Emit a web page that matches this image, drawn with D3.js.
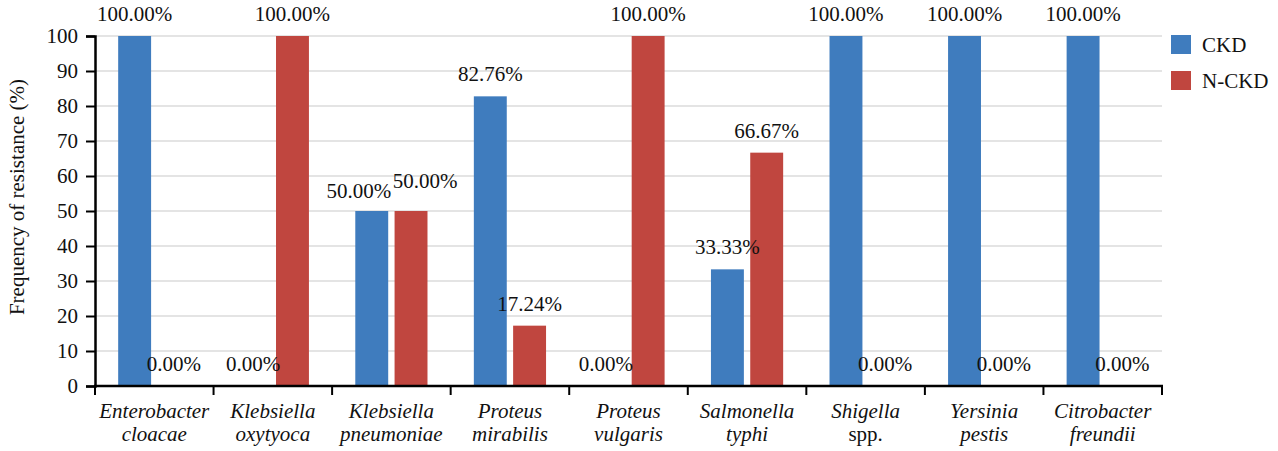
<!DOCTYPE html>
<html>
<head>
<meta charset="utf-8">
<script src="https://cdn.jsdelivr.net/npm/d3@7"></script>
<style>
  body { margin: 0; background: #fff; }
  svg { display: block; font-family: "Liberation Serif", "Times New Roman", serif; }
</style>
</head>
<body>
<svg id="chart" width="1278" height="451"></svg>
<script>
// data
var genus   = ["Enterobacter", "Klebsiella", "Klebsiella", "Proteus", "Proteus", "Salmonella", "Shigella", "Yersinia", "Citrobacter"];
var species = ["cloacae", "oxytyoca", "pneumoniae", "mirabilis", "vulgaris", "typhi", "spp.", "pestis", "freundii"];
var ckd     = [100, 0, 50, 82.76, 0, 33.33, 100, 100, 100];
var nckd    = [0, 100, 50, 17.24, 100, 66.67, 0, 0, 0];
var seriesNames = ["CKD", "N-CKD"];
var colors = ["#3f7cbe", "#c0463f"];
var yTicks = [0, 10, 20, 30, 40, 50, 60, 70, 80, 90, 100];

// hand nudges for the labels that were moved apart in the original
var labelNudge = { "2-0": [-13, 2], "2-1": [14, -8], "4-0": [-3, 0] };

var svg = d3.select("#chart");
var mLeft = 95, mRight = 1162, mTop = 36, mBottom = 386;

var x = d3.scaleBand().domain(d3.range(genus.length)).range([mLeft, mRight]).padding(0);
var xs = d3.scaleBand().domain([0, 1]).range([0, x.bandwidth()]).paddingInner(0.162).paddingOuter(0.59);
var y = d3.scaleLinear().domain([0, 100]).range([mBottom, mTop]);

// grid
svg.append("g").selectAll("line").data(yTicks.filter(function(d){ return d > 0; })).enter().append("line")
    .attr("x1", mLeft).attr("x2", mRight)
    .attr("y1", function(d){ return y(d); }).attr("y2", function(d){ return y(d); })
    .attr("stroke", "#e4e4e4").attr("stroke-width", 2);

// bars
var rows = genus.map(function(g, i){ return [ckd[i], nckd[i]]; });
var grp = svg.append("g").selectAll("g").data(rows).enter().append("g")
    .attr("transform", function(d, i){ return "translate(" + x(i) + ",0)"; });

grp.selectAll("rect").data(function(d){ return d; }).enter().append("rect")
    .attr("x", function(d, j){ return xs(j); })
    .attr("width", xs.bandwidth())
    .attr("y", function(d){ return y(d); })
    .attr("height", function(d){ return mBottom - y(d); })
    .attr("fill", function(d, j){ return colors[j]; });

grp.each(function(d, i){
    d3.select(this).selectAll("text").data(d).enter().append("text")
        .attr("x", function(v, j){ var n = labelNudge[i + "-" + j]; return xs(j) + xs.bandwidth() / 2 + (n ? n[0] : 0); })
        .attr("y", function(v, j){ var n = labelNudge[i + "-" + j]; return y(v) - 15 + (n ? n[1] : 0); })
        .attr("text-anchor", "middle")
        .attr("font-size", 21)
        .attr("fill", "#111")
        .text(function(v){ return v.toFixed(2) + "%"; });
});

// y axis
var yAxis = svg.append("g").attr("transform", "translate(" + mLeft + ",0)")
    .call(d3.axisLeft(y).tickValues(yTicks).tickSize(9).tickPadding(8));
yAxis.select(".domain").attr("stroke", "#000").attr("stroke-width", 2.5);
yAxis.selectAll(".tick line").attr("stroke", "#000").attr("stroke-width", 2);
yAxis.selectAll(".tick text").attr("font-size", 21).attr("font-family", "Liberation Serif").attr("fill", "#111");

// x axis with ticks on band edges
var xAxis = svg.append("g");
xAxis.append("line").attr("x1", mLeft - 1).attr("x2", mRight + 1).attr("y1", mBottom).attr("y2", mBottom)
    .attr("stroke", "#000").attr("stroke-width", 2.5);
xAxis.selectAll("line.tk").data(d3.range(genus.length + 1)).enter().append("line")
    .attr("class", "tk")
    .attr("x1", function(i){ return mLeft + i * x.step(); })
    .attr("x2", function(i){ return mLeft + i * x.step(); })
    .attr("y1", mBottom).attr("y2", mBottom + 9)
    .attr("stroke", "#000").attr("stroke-width", 2);

var xl = xAxis.selectAll("text").data(genus).enter().append("text")
    .attr("text-anchor", "middle")
    .attr("font-size", 21)
    .attr("fill", "#111");
xl.append("tspan")
    .attr("x", function(d, i){ return x(i) + x.bandwidth() / 2; })
    .attr("y", 418)
    .attr("font-style", "italic")
    .text(function(d){ return d; });
xl.append("tspan")
    .attr("x", function(d, i){ return x(i) + x.bandwidth() / 2; })
    .attr("y", 441)
    .attr("font-style", function(d, i){ return species[i] == "spp." ? "normal" : "italic"; })
    .text(function(d, i){ return species[i]; });

// axis title
svg.append("text")
    .attr("transform", "translate(24,197) rotate(-90)")
    .attr("text-anchor", "middle")
    .attr("font-size", 21)
    .attr("fill", "#111")
    .text("Frequency of resistance (%)");

// legend
var lg = svg.append("g").selectAll("g").data(seriesNames).enter().append("g")
    .attr("transform", function(d, i){ return "translate(1171," + (35 + i * 36) + ")"; });
lg.append("rect").attr("width", 20).attr("height", 19).attr("fill", function(d, i){ return colors[i]; });
lg.append("text").attr("x", 31).attr("y", 17).attr("font-size", 21).attr("fill", "#111").text(function(d){ return d; });
</script>
</body>
</html>
